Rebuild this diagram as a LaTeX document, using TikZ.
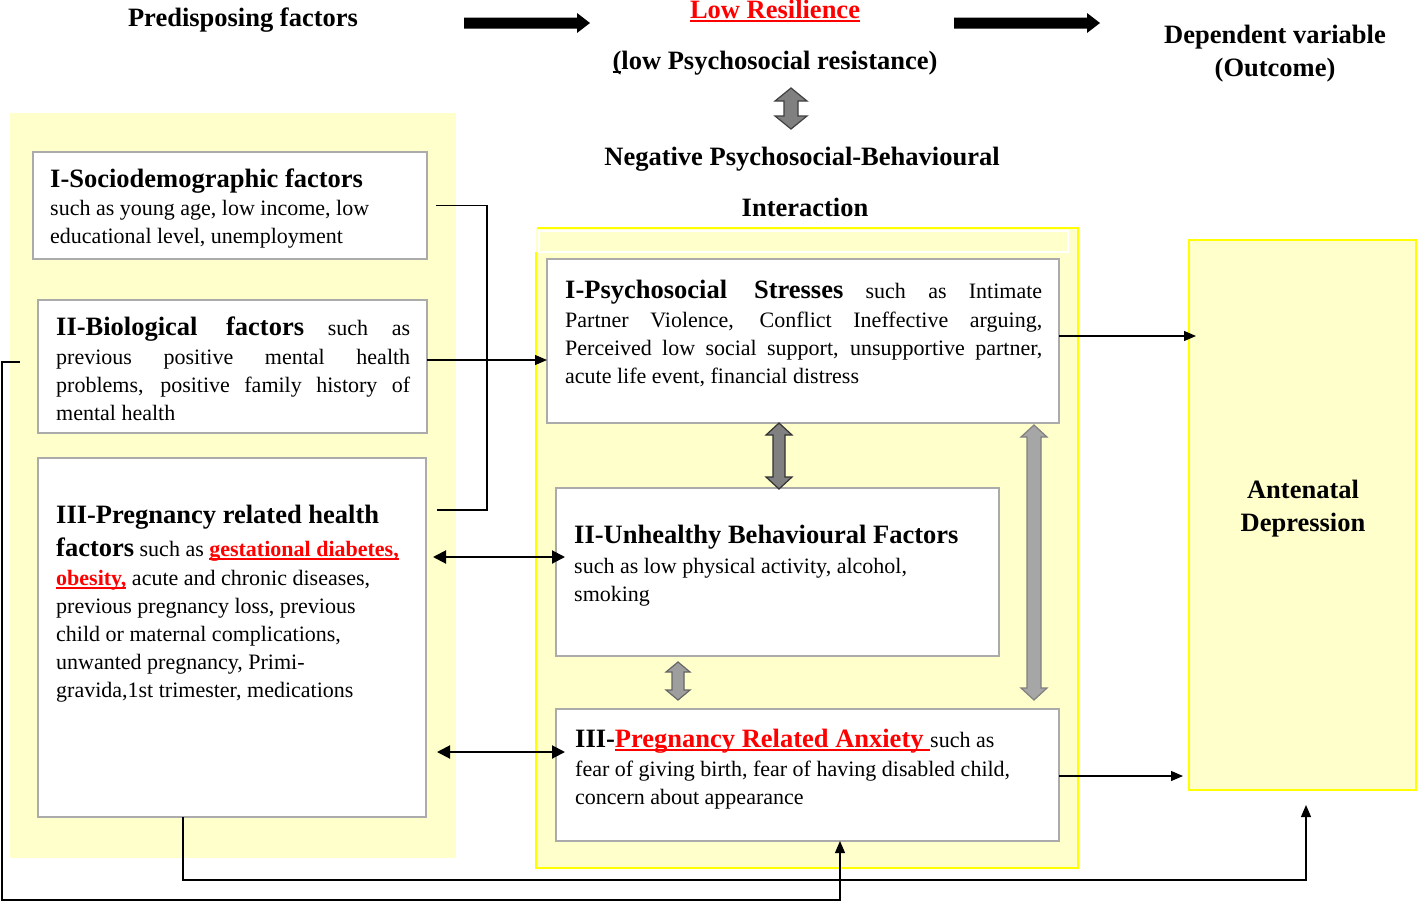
\documentclass[tikz,border=0pt]{standalone}
\usepackage{fontspec}
\setmainfont{Liberation Serif}
\usetikzlibrary{arrows.meta,calc}
\definecolor{ly}{HTML}{FFFFCC}
\definecolor{yb}{HTML}{FFFF00}
\definecolor{bx}{HTML}{ABABAB}
\newsavebox\ulbox
\newcommand\ulc[3]{\leavevmode\sbox\ulbox{#3}\rlap{\color{#1}\rule[-#2]{\wd\ulbox}{1.6pt}}\usebox\ulbox}
\newcommand\hdfont{\fontsize{26.5}{28}\selectfont\bfseries}
\newcommand\bdfont{\fontsize{22}{28}\selectfont}
\newcommand\rsp{\spaceskip=0pt\xspaceskip=0pt\relax}
\newcommand\jline[2]{\makebox[#1][s]{\rsp #2}}
% x, ytop, ybot, shaft half, head half, head length, fill, draw
\newcommand\blockdarrow[8]{\filldraw[fill=#7, draw=#8, line width=1.2pt, line join=miter]
  (#1,#2) -- (#1+#5,#2+#6) -- (#1+#4,#2+#6) -- (#1+#4,#3-#6) -- (#1+#5,#3-#6) -- (#1,#3)
  -- (#1-#5,#3-#6) -- (#1-#4,#3-#6) -- (#1-#4,#2+#6) -- (#1-#5,#2+#6) -- cycle;}
% x1, x2, y, shaft half, head half, head length
\newcommand\blockrarrow[6]{\fill[black] (#1,#3-#4) -- (#2-#6,#3-#4) -- (#2-#6,#3-#5) -- (#2,#3)
  -- (#2-#6,#3+#5) -- (#2-#6,#3+#4) -- (#1,#3+#4) -- cycle;}
\begin{document}
\begin{tikzpicture}[x=1pt,y=-1pt,
  box/.style={draw=bx, line width=2.5pt, fill=white, anchor=north west, inner sep=0pt, outer sep=0pt},
  txt/.style={anchor=base west, inner sep=0pt, align=left, font=\bdfont},
  ttl/.style={anchor=base, inner sep=0pt, font=\hdfont},
  arr/.style={line width=1.2pt, -{Triangle[length=12pt,width=10pt]}},
  darr/.style={line width=2pt, {Triangle[length=13pt,width=13pt]}-{Triangle[length=13pt,width=13pt]}},
  plain/.style={line width=1.2pt}]
\fill[white] (0,0) rectangle (1418,902);
\useasboundingbox (0,0) rectangle (1418,902);

% panels
\fill[ly] (10,113) rectangle (456,858);
\fill[ly] (536,228) rectangle (1078,868);
\draw[yb, line width=2.5pt] (536,252) -- (536,868) -- (1078,868) -- (1078,228) -- (537,228);
\draw[white, line width=1.5pt] (539,231) rectangle (1068,252);

% titles
\node[ttl] (pre) at (243,27) {Predisposing factors};
\node[ttl, text=red] (lowres) at (775,18) {\ulc{red}{3.5pt}{Low Resilience}};
\node[ttl] (lowpsy) at (775,69) {\ulc{black}{3.5pt}{(}low Psychosocial resistance)};
\node[ttl] (dv1) at (1275,43) {Dependent variable};
\node[ttl] (dv2) at (1275,76) {(Outcome)};
\node[ttl] (neg) at (802,165) {Negative Psychosocial-Behavioural};
\node[ttl] (inter) at (805,216) {Interaction};

\blockrarrow{464}{590}{23}{5.5}{10}{13}
\blockrarrow{954}{1100}{23}{5.5}{10}{13}
\blockdarrow{791}{88}{129}{7}{16}{13}{black!50}{black!75}

% boxes
\node[box, minimum width=394pt, minimum height=107pt] (soc) at (33,152) {};
\node[box, minimum width=389pt, minimum height=133pt] (bio) at (38,300) {};
\node[box, minimum width=388pt, minimum height=359pt] (preg) at (38,458) {};
\node[box, minimum width=512pt, minimum height=164pt] (psy) at (547,259) {};
\node[box, minimum width=443pt, minimum height=168pt] (unh) at (556,488) {};
\node[box, minimum width=503pt, minimum height=132pt] (pra) at (556,709) {};
\node[box, draw=yb, fill=ly, minimum width=227pt, minimum height=550pt] (dep) at (1189,240) {};

% texts
\node[txt, text width=375pt] (soct) at (50,187) {\rsp{\hdfont I-Sociodemographic factors}\\
  such as young age, low income, low\\
  educational level, unemployment};
\node[txt, text width=354pt] (biot) at (56,335) {\rsp\jline{354pt}{{\hdfont II-Biological factors} such as}\\[1pt]
  \jline{354pt}{previous positive mental health}\\
  \jline{354pt}{problems, positive family history of}\\
  mental health};
\node[txt, text width=362pt] (pregt) at (56,523) {\rsp{\hdfont III-Pregnancy related health}\\[5pt]
  {\hdfont factors} such as \ulc{red}{3.5pt}{\color{red}\bfseries gestational diabetes,}\\[1pt]
  \ulc{red}{3.5pt}{\color{red}\bfseries obesity,} acute and chronic diseases,\\
  previous pregnancy loss, previous\\
  child or maternal complications,\\
  unwanted pregnancy, Primi-\\
  gravida,1st trimester, medications};
\node[txt, text width=477pt] (psyt) at (565,298) {\rsp\jline{477pt}{{\hdfont I-Psychosocial Stresses} such as Intimate}\\[1pt]
  \jline{477pt}{Partner Violence, Conflict Ineffective arguing,}\\
  \jline{477pt}{Perceived low social support, unsupportive partner,}\\
  acute life event, financial distress};
\node[txt, text width=420pt] (unht) at (574,543) {\rsp{\hdfont II-Unhealthy Behavioural Factors}\\[2pt]
  such as low physical activity, alcohol,\\
  smoking};
\node[txt, text width=480pt] (prat) at (575,747) {\rsp{\hdfont III-\ulc{red}{3.5pt}{\color{red}Pregnancy Related Anxiety }}such as\\[1pt]
  fear of giving birth, fear of having disabled child,\\
  concern about appearance};
\node[ttl] (dep1) at (1303,498) {Antenatal};
\node[ttl] (dep2) at (1303,531) {Depression};

% grey block arrows
\blockdarrow{779}{423}{489}{6}{13}{12}{black!50}{black!80}
\blockdarrow{678}{662}{700}{6}{12}{10}{black!38}{black!60}
\blockdarrow{1034}{425}{700}{7}{13}{12}{black!35}{black!50}

% connectors
\coordinate (bk) at (487,510);
\coordinate (b3) at (437,510);
\draw[plain] ($(soc.east)+(9,0)$) -| (bk) -- (b3);
\draw[arr] (bio.east |- 0,360) -- (psy.west |- 0,360);
\draw[arr] (psy.east |- 0,336) -- ($(dep.west |- 0,336)+(7,0)$);
\draw[arr] (pra.east |- 0,776) -- ($(dep.west |- 0,776)+(-6,0)$);
\draw[darr] ($(preg.east |- 0,557)+(7,0)$) -- ($(unh.west |- 0,557)+(9,0)$);
\draw[darr] ($(preg.east |- 0,752)+(11,0)$) -- ($(pra.west |- 0,752)+(9,0)$);
\draw[arr] (preg.south -| 183,0) -- ++(0,63) -| ($(dep.south -| 1306,0)+(0,15)$);
\coordinate (ls) at (20,362);
\draw[arr] (ls) -- ++(-18,0) -- ++(0,538) -| (pra.south -| 840,0);
\end{tikzpicture}
\end{document}
